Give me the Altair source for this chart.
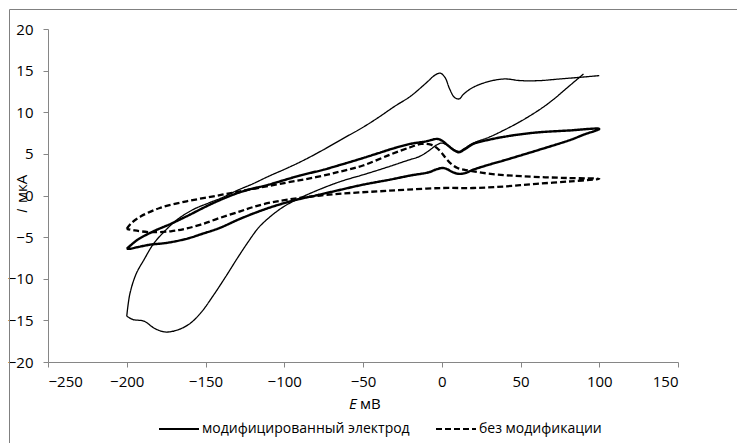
import altair as alt
import pandas as pd

LBL_MOD = "модифицированный электрод"
LBL_BARE = "без модификации"

# thin solid loop, anodic branch (-200 -> 100)
thin_up_E = [-200, -198, -194, -189, -183, -176, -168, -158, -148, -140, -130, -120, -110, -98, -88, -77,
             -64, -50, -40, -30, -20, -10, -4, -1, 2, 5, 8, 11, 14, 20, 30, 40, 50, 62, 75, 88, 100]
thin_up_I = [-14.5, -11.8, -9.4, -7.7, -5.8, -4.3, -2.9, -1.7, -0.9, -0.3, 0.6, 1.4, 2.3, 3.3, 4.2, 5.3,
             6.7, 8.2, 9.4, 10.7, 11.9, 13.5, 14.5, 14.7, 14.2, 12.8, 11.8, 11.6, 12.2, 13.0, 13.7, 14.0, 13.8, 13.8, 14.0, 14.2, 14.4]

# thin solid loop, cathodic branch (90 -> -200)
thin_dn_E = [90, 80, 70, 62, 50, 40, 30, 20, 14, 11, 7, 3, 0, -3, -8, -14, -22, -33, -48, -64, -78, -90,
             -100, -108, -116, -123, -130, -137, -145, -153, -160, -167, -175, -182, -189, -196, -200]
thin_dn_I = [14.6, 13.0, 11.4, 10.3, 8.9, 7.9, 7.0, 6.3, 5.6, 5.3, 5.6, 6.1, 6.3, 6.1, 5.4, 4.7, 4.2, 3.5, 2.6, 1.7, 0.7, -0.3,
             -1.3, -2.4, -3.8, -5.6, -7.6, -9.7, -12.0, -14.1, -15.4, -16.1, -16.4, -16.0, -15.1, -14.9, -14.5]

# thick solid loop (closed)
thick_E = [-200, -193, -183, -172, -162, -145, -128, -110, -90, -75, -64, -50, -40, -30, -20, -10, -3, 0, 4, 8, 11, 15, 20,
           30, 41, 52, 62, 80, 100,
           90, 82, 62, 41, 30, 20, 15, 11, 7, 3, 0, -4, -8, -20, -33, -50, -64, -80, -92, -110, -128, -141, -152,
           -162, -175, -185, -193, -198, -200]
thick_I = [-6.4, -5.3, -4.3, -3.4, -2.5, -0.9, 0.4, 1.3, 2.4, 3.1, 3.7, 4.5, 5.1, 5.7, 6.2, 6.5, 6.8, 6.6, 6.0, 5.4, 5.2, 5.6, 6.2,
           6.7, 7.1, 7.4, 7.6, 7.8, 8.0,
           7.3, 6.7, 5.5, 4.3, 3.7, 3.1, 2.7, 2.6, 2.8, 3.2, 3.3, 3.1, 2.8, 2.4, 1.9, 1.3, 0.7, 0.0, -0.5, -1.5, -2.8, -3.9, -4.6,
           -5.2, -5.7, -5.9, -6.2, -6.4, -6.4]

# dashed loop (closed)
dash_E = [-200, -197, -191, -179, -162, -145, -128, -100, -80, -64, -50, -33, -20, -13, -7, -3, 0, 3, 6, 10, 14, 20,
          31, 52, 80, 100,
          82, 60, 41, 20, 0, -22, -40, -58, -77, -98, -110, -120, -128, -141, -153, -163, -172, -185, -195, -200]
dash_I = [-4.0, -3.3, -2.5, -1.5, -0.7, -0.1, 0.5, 1.5, 2.2, 2.9, 3.6, 4.9, 5.8, 6.2, 6.1, 5.7, 5.1, 4.4, 3.8, 3.3, 3.1, 2.9,
          2.6, 2.3, 2.1, 2.0,
          1.7, 1.4, 1.1, 0.9, 0.9, 0.7, 0.5, 0.3, 0.0, -0.5, -0.9, -1.4, -1.9, -2.7, -3.5, -4.0, -4.3, -4.4, -4.2, -4.0]

x_ticks = [-250, -200, -150, -100, -50, 0, 50, 100, 150]
y_ticks = [-20, -15, -10, -5, 0, 5, 10, 15, 20]


def part(E, I, curve, group):
    return pd.DataFrame({"E": E, "I": I, "curve": curve, "group": group, "idx": list(range(len(E)))})


df = pd.concat([
    part(thin_up_E, thin_up_I, "thin_up", LBL_MOD),
    part(thin_dn_E, thin_dn_I, "thin_dn", LBL_MOD),
    part(thick_E, thick_I, "thick", LBL_MOD),
    part(dash_E, dash_I, "dashed", LBL_BARE),
], ignore_index=True)

FONT = "Open Sans"
FS = 15
LFS = 14
W, H = 630, 333

xscale = alt.Scale(domain=[-250, 150], nice=False, zero=False)
yscale = alt.Scale(domain=[-20, 20], nice=False, zero=False)

enc = dict(
    x=alt.X("E:Q", scale=xscale,
            axis=alt.Axis(values=x_ticks, title=None, grid=False, labelPadding=7)),
    y=alt.Y("I:Q", scale=yscale,
            axis=alt.Axis(values=y_ticks, title=None, grid=False, labelPadding=10)),
    detail="curve:N",
    order="idx:Q",
    strokeDash=alt.StrokeDash(
        "group:N",
        scale=alt.Scale(domain=[LBL_MOD, LBL_BARE], range=[[1, 0], [6, 3]]),
        legend=alt.Legend(orient="none", legendX=110, legendY=379, direction="horizontal", title=None,
                          symbolType="stroke", symbolSize=1600, symbolStrokeWidth=2,
                          symbolStrokeColor="black", labelFont=FONT, labelFontSize=LFS,
                          labelColor="black", columnPadding=22, labelOffset=2, labelLimit=0),
    ),
)

base = alt.Chart(df)
thin = base.transform_filter(alt.FieldOneOfPredicate(field="curve", oneOf=["thin_up", "thin_dn"])).mark_line(
    color="black", interpolate="catmull-rom", strokeWidth=1.3).encode(**enc)
thick = base.transform_filter(alt.FieldEqualPredicate(field="curve", equal="thick")).mark_line(
    color="black", interpolate="catmull-rom", strokeWidth=2.4).encode(**enc)
dashed = base.transform_filter(alt.FieldEqualPredicate(field="curve", equal="dashed")).mark_line(
    color="black", interpolate="catmull-rom", strokeWidth=2.3).encode(**enc)

# decorative chart frame, with its own data source (only top and left edges fall inside the picture)
frame_data = alt.Data(values=[{"frame": 1}])
frame_top = alt.Chart(frame_data).mark_rule(color="gray", strokeWidth=1).encode(
    x=alt.value(-38.5), x2=alt.value(700), y=alt.value(-19.5))
frame_left = alt.Chart(frame_data).mark_rule(color="gray", strokeWidth=1).encode(
    x=alt.value(-38.5), y=alt.value(-19.5), y2=alt.value(420))

one = alt.Data(values=[{"k": 1}])
xt_E = alt.Chart(one).mark_text(text="E", font=FONT, fontSize=FS, fontStyle="italic", align="left",
                                baseline="middle", color="black").encode(x=alt.value(301), y=alt.value(375))
xt_u = alt.Chart(one).mark_text(text="мВ", font=FONT, fontSize=FS, align="left",
                                baseline="middle", color="black").encode(x=alt.value(312), y=alt.value(375))
yt_I = alt.Chart(one).mark_text(text="I", font=FONT, fontSize=FS, fontStyle="italic", align="left", angle=270,
                                baseline="middle", color="black").encode(x=alt.value(-26), y=alt.value(184))
yt_u = alt.Chart(one).mark_text(text="мкА", font=FONT, fontSize=FS, align="left", angle=270,
                                baseline="middle", color="black").encode(x=alt.value(-26), y=alt.value(174))

chart = alt.layer(frame_top, frame_left, dashed, thin, thick, xt_E, xt_u, yt_I, yt_u).properties(
    width=W, height=H,
    autosize=alt.AutoSizeParams(type="none"),
    padding={"left": 48, "top": 29, "right": 59, "bottom": 81},
    background="white",
).configure_view(stroke=None).configure_axis(
    domainColor="#868686", tickColor="#868686", tickSize=5, labelFont=FONT, labelFontSize=FS,
    labelColor="black",
)

chart.save("out.html", embed_options={"renderer": "svg", "actions": False})
